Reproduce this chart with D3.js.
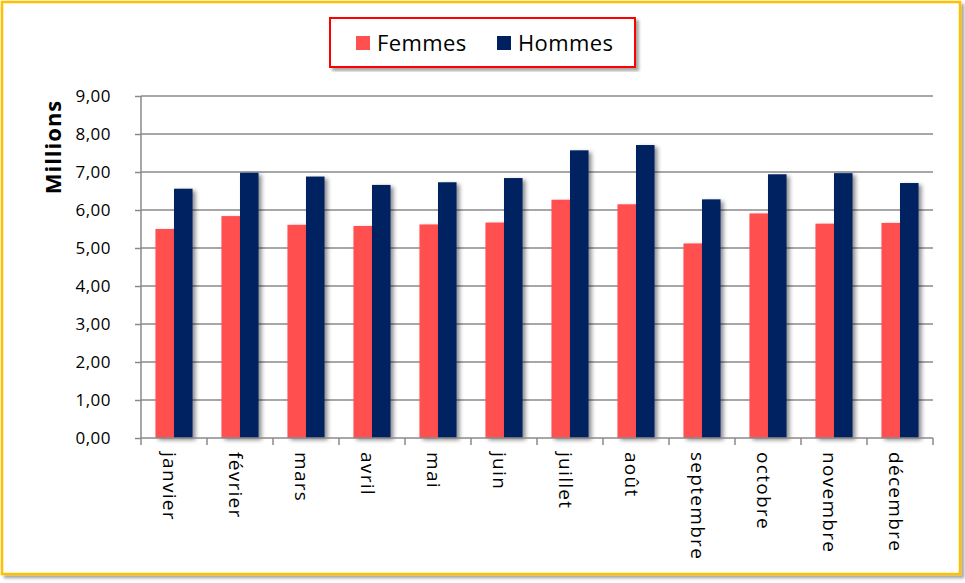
<!DOCTYPE html>
<html>
<head>
<meta charset="utf-8">
<script src="https://cdn.jsdelivr.net/npm/d3@7"></script>
<style>
  body { margin: 0; background: #fff; }
  text { font-family: "Open Sans", "Noto Sans", sans-serif; fill: #000; }
</style>
</head>
<body>
<div id="chart"></div>
<script>
var months = ["janvier", "février", "mars", "avril", "mai", "juin", "juillet", "août", "septembre", "octobre", "novembre", "décembre"];
var femmes = [5.50, 5.84, 5.61, 5.58, 5.62, 5.67, 6.27, 6.15, 5.12, 5.91, 5.64, 5.66];
var hommes = [6.56, 6.98, 6.88, 6.66, 6.73, 6.84, 7.57, 7.71, 6.28, 6.94, 6.97, 6.71];
var seriesNames = ["Femmes", "Hommes"];
var seriesColors = ["#ff5050", "#002060"];
var yTicks = [0, 1, 2, 3, 4, 5, 6, 7, 8, 9];

var width = 965, height = 583;
var margin = {left: 141, right: 32, top: 96, bottom: 145};

var svg = d3.select("#chart").append("svg")
    .attr("width", width)
    .attr("height", height);

var defs = svg.append("defs");
var sh = defs.append("filter").attr("id", "shadow")
    .attr("x", "-20%").attr("y", "-10%").attr("width", "160%").attr("height", "130%");
sh.append("feDropShadow").attr("dx", 3).attr("dy", 2).attr("stdDeviation", 2)
    .attr("flood-color", "#000").attr("flood-opacity", 0.45);
var sh2 = defs.append("filter").attr("id", "boxshadow")
    .attr("x", "-5%").attr("y", "-5%").attr("width", "110%").attr("height", "115%");
sh2.append("feDropShadow").attr("dx", 3).attr("dy", 3).attr("stdDeviation", 1.5)
    .attr("flood-color", "#000").attr("flood-opacity", 0.35);

// outer frame
svg.append("rect")
    .attr("x", 2).attr("y", 2).attr("width", 958).attr("height", 572)
    .attr("fill", "#fff").attr("stroke", "#ffc000").attr("stroke-width", 2.5)
    .attr("filter", "url(#boxshadow)");

var x = d3.scaleBand()
    .domain(months)
    .range([margin.left, width - margin.right])
    .paddingInner(0)
    .paddingOuter(0);

// two bars side by side, ~18.5px each inside a 66px band
var x1 = d3.scaleBand()
    .domain(seriesNames)
    .range([0, x.bandwidth()])
    .paddingInner(0)
    .paddingOuter(0.78);

var y = d3.scaleLinear()
    .domain([0, 9])
    .range([height - margin.bottom, margin.top]);

// gridlines
svg.append("g")
  .selectAll("line")
  .data(yTicks.slice(1))
  .enter().append("line")
    .attr("x1", margin.left).attr("x2", width - margin.right)
    .attr("y1", function(d) { return y(d); })
    .attr("y2", function(d) { return y(d); })
    .attr("stroke", "#8a8a8a").attr("stroke-width", 1.5);

// bars
var groups = svg.append("g")
  .selectAll("g")
  .data(months)
  .enter().append("g")
    .attr("transform", function(d) { return "translate(" + x(d) + ",0)"; });

groups.selectAll("rect")
  .data(function(d, i) { return [femmes[i], hommes[i]]; })
  .enter().append("rect")
    .attr("x", function(d, j) { return x1(seriesNames[j]); })
    .attr("y", function(d) { return y(d); })
    .attr("width", x1.bandwidth())
    .attr("height", function(d) { return y(0) - y(d); })
    .attr("fill", function(d, j) { return seriesColors[j]; })
    .attr("filter", "url(#shadow)");

// y axis
var yAxis = svg.append("g")
    .attr("transform", "translate(" + margin.left + ",0)")
    .call(d3.axisLeft(y).tickValues(yTicks).tickSize(6).tickPadding(24)
      .tickFormat(function(d) { return d3.format(".2f")(d).replace(".", ","); }));
yAxis.selectAll("line, path").attr("stroke", "#8a8a8a").attr("stroke-width", 1.5);
yAxis.select(".domain").attr("d", "M0," + y(9) + "V" + y(0));
yAxis.selectAll("text").style("font-size", "17px").style("letter-spacing", "0.5px").attr("fill", "#000");

// x axis
var xAxis = svg.append("g")
    .attr("transform", "translate(0," + y(0) + ")");
xAxis.append("line")
    .attr("x1", margin.left).attr("x2", width - margin.right)
    .attr("stroke", "#8a8a8a").attr("stroke-width", 1.5);
xAxis.selectAll(".tk")
  .data(months.concat(["_end"]))
  .enter().append("line")
    .attr("x1", function(d, i) { return margin.left + i * x.step(); })
    .attr("x2", function(d, i) { return margin.left + i * x.step(); })
    .attr("y1", 0).attr("y2", 7)
    .attr("stroke", "#8a8a8a").attr("stroke-width", 1.5);
xAxis.selectAll("text")
  .data(months)
  .enter().append("text")
    .attr("transform", function(d) {
      return "translate(" + (x(d) + x.bandwidth() / 2 - 4) + ",14) rotate(90)";
    })
    .attr("dy", "0.35em")
    .style("font-size", "19px")
    .style("letter-spacing", "1.3px")
    .text(function(d) { return d; });

// y title
svg.append("text")
    .attr("transform", "translate(61,147) rotate(-90)")
    .attr("text-anchor", "middle")
    .style("font-size", "22px")
    .style("font-weight", "bold")
    .style("letter-spacing", "1px")
    .text("Millions");

// legend
var legend = svg.append("g");
legend.append("rect")
    .attr("x", 330).attr("y", 18).attr("width", 305).attr("height", 49)
    .attr("fill", "#fff").attr("stroke", "#ff0000").attr("stroke-width", 2)
    .attr("filter", "url(#boxshadow)");
var legX = [356, 497];
seriesNames.forEach(function(name, i) {
  legend.append("rect")
    .attr("x", legX[i]).attr("y", 36).attr("width", 14).attr("height", 14)
    .attr("fill", seriesColors[i]);
  legend.append("text")
    .attr("x", legX[i] + 21).attr("y", 51)
    .style("font-size", "22px")
    .style("letter-spacing", "0.4px")
    .text(name);
});
</script>
</body>
</html>
